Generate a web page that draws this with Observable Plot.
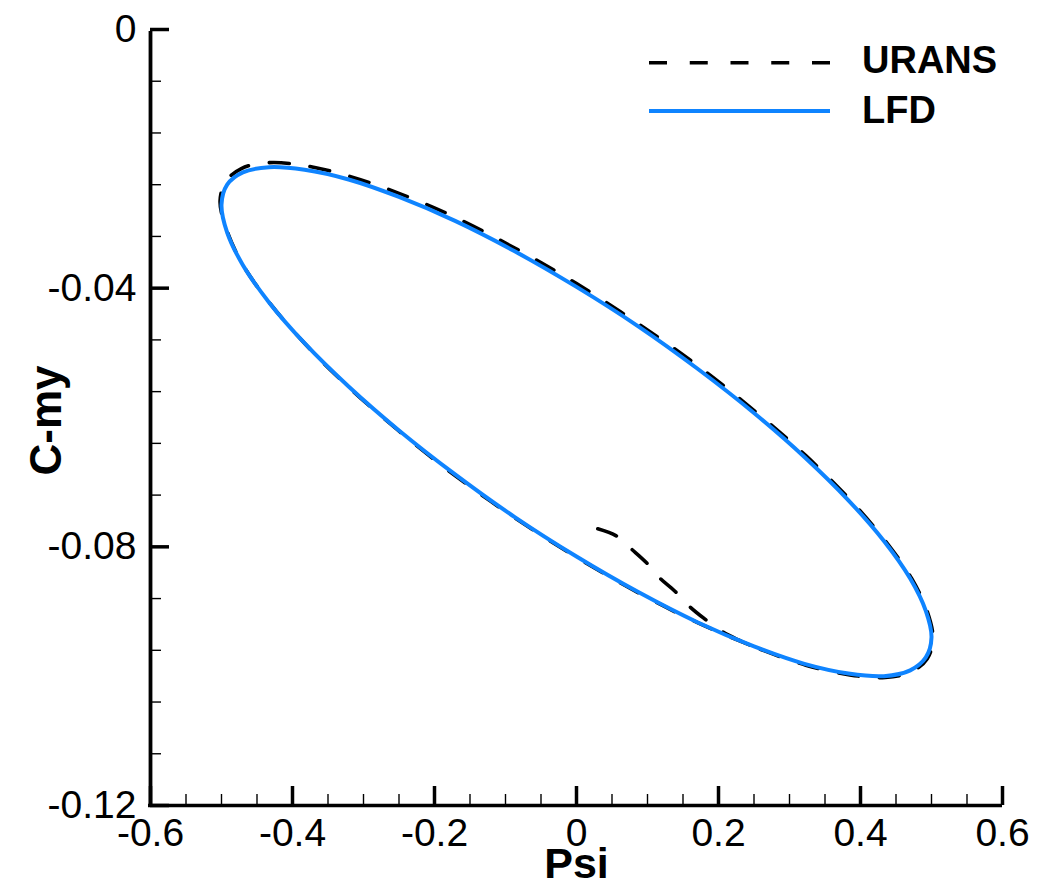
<!DOCTYPE html>
<html><head><meta charset="utf-8">
<script src="https://cdn.jsdelivr.net/npm/d3@7"></script>
<script src="https://cdn.jsdelivr.net/npm/@observablehq/plot@0.6"></script>
<style>
html,body{margin:0;padding:0;background:#fff;}
#wrap{position:relative;width:1039px;height:882px;overflow:hidden;}
#wrap svg{display:block;}
#legend{position:absolute;left:0;top:0;pointer-events:none;}
</style></head><body>
<div id="wrap"></div>
<script>
// ---- data ----
const lfdPsi = [0.500,0.492,0.470,0.433,0.383,0.321,0.250,0.171,0.087,0.000,-0.087,-0.171,-0.250,-0.321,-0.383,-0.433,-0.470,-0.492,-0.500,-0.492,-0.470,-0.433,-0.383,-0.321,-0.250,-0.171,-0.087,0.000,0.087,0.171,0.250,0.321,0.383,0.433,0.470,0.492];
const lfdCmy = [-0.0940,-0.0971,-0.0991,-0.1000,-0.0996,-0.0981,-0.0954,-0.0917,-0.0870,-0.0815,-0.0754,-0.0688,-0.0620,-0.0552,-0.0485,-0.0422,-0.0364,-0.0314,-0.0271,-0.0240,-0.0221,-0.0213,-0.0217,-0.0232,-0.0259,-0.0296,-0.0343,-0.0398,-0.0459,-0.0525,-0.0593,-0.0661,-0.0728,-0.0791,-0.0849,-0.0899];

const uransPsi = [0.030,0.056,0.078,0.099,0.118,0.139,0.159,0.180,0.205,0.228,
  0.251,0.323,0.385,0.435,0.472,0.494,0.502,0.494,0.472,0.435,0.385,0.323,0.251,0.172,0.087,0.000,-0.087,-0.172,-0.251,-0.323,-0.385,-0.435,-0.472,-0.494,-0.502,-0.494,-0.472,-0.435,-0.385,-0.323,-0.251,-0.172,-0.087,0.000,0.087,0.172,0.251];
const uransCmy = [-0.0772,-0.0783,-0.0804,-0.0825,-0.0849,-0.0869,-0.0892,-0.0911,-0.0931,-0.0944,
  -0.0955,-0.0983,-0.0998,-0.1002,-0.0993,-0.0973,-0.0942,-0.0900,-0.0849,-0.0791,-0.0727,-0.0659,-0.0590,-0.0521,-0.0455,-0.0393,-0.0338,-0.0290,-0.0253,-0.0226,-0.0210,-0.0206,-0.0215,-0.0235,-0.0265,-0.0306,-0.0360,-0.0419,-0.0483,-0.0551,-0.0620,-0.0689,-0.0755,-0.0816,-0.0871,-0.0918,-0.0955];

const xTicks = [-0.6,-0.4,-0.2,0,0.2,0.4,0.6];
const xTickLabels = ["-0.6","-0.4","-0.2","0","0.2","0.4","0.6"];
const xMinor = [-0.55,-0.5,-0.45,-0.35,-0.3,-0.25,-0.15,-0.1,-0.05,0.05,0.1,0.15,0.25,0.3,0.35,0.45,0.5,0.55];
const yTicks = [0,-0.04,-0.08,-0.12];
const yTickLabels = ["0","-0.04","-0.08","-0.12"];
const yMinor = [-0.008,-0.016,-0.024,-0.032,-0.048,-0.056,-0.064,-0.072,-0.088,-0.096,-0.104,-0.112];

const seriesNames = ["URANS","LFD"];
const seriesColors = ["#000000","#0f84ff"];

const lfd = lfdPsi.map((p,i)=>({psi:p, cmy:lfdCmy[i]}));
const urans = uransPsi.map((p,i)=>({psi:p, cmy:uransCmy[i]}));

// ---- layout ----
const W=1039, H=882, mL=150, mR=37, mT=29, mB=77;
const plotW = W-mL-mR, plotH = H-mT-mB;
const font = "'Liberation Sans', Arial, Helvetica, sans-serif";

const chart = Plot.plot({
  width: W, height: H,
  marginLeft: mL, marginRight: mR, marginTop: mT, marginBottom: mB,
  x: {domain: [-0.6, 0.6]},
  y: {domain: [-0.12, 0]},
  style: {fontFamily: font, background: "white", overflow: "visible", color: "black"},
  marks: [
    Plot.line(urans, {x:"psi", y:"cmy", stroke: seriesColors[0], strokeWidth: 3.6, strokeDasharray: "20,21", curve: "catmull-rom"}),
    Plot.line(lfd, {x:"psi", y:"cmy", stroke: seriesColors[1], strokeWidth: 4, curve: "catmull-rom-closed"}),
    // minor & major ticks (pointing inward)
    Plot.tickY(yMinor, {y: d=>d, stroke:"black", strokeWidth: 1.4, insetRight: plotW - 11}),
    Plot.tickY(yTicks, {y: d=>d, stroke:"black", strokeWidth: 3.5, insetRight: plotW - 19}),
    Plot.tickX(xMinor, {x: d=>d, stroke:"black", strokeWidth: 1.4, insetTop: plotH - 11}),
    Plot.tickX(xTicks, {x: d=>d, stroke:"black", strokeWidth: 3.5, insetTop: plotH - 19}),
    // axis lines
    Plot.ruleX([-0.6], {stroke:"black", strokeWidth: 3.8, y1: -0.12, y2: 0, insetBottom: -2}),
    Plot.ruleY([-0.12], {stroke:"black", strokeWidth: 3.5, x1: -0.6, x2: 0.6, insetLeft: -2}),
    // tick labels
    Plot.axisY(yTicks, {tickSize: 0, tickPadding: 14, label: null, fontSize: 39,
      tickFormat: d => yTickLabels[yTicks.indexOf(d)]}),
    Plot.axisX(xTicks, {tickSize: 0, tickPadding: 13, label: null, fontSize: 39,
      tickFormat: d => xTickLabels[xTicks.indexOf(d)]}),
    // axis titles
    Plot.text(["Psi"], {frameAnchor: "bottom", textAnchor: "middle", lineAnchor: "bottom", dy: 72, fontSize: 43, fontWeight: "bold", fill: "black"}),
    Plot.text(["C-my"], {frameAnchor: "left", textAnchor: "middle", lineAnchor: "bottom", rotate: -90, dx: -90, dy: 3, fontSize: 44, fontWeight: "bold", fill: "black"})
  ]
});

const wrap = document.getElementById("wrap");
wrap.appendChild(chart);

// ---- legend (overlay inside the plot area, top-right) ----
const leg = d3.select(wrap).append("svg").attr("id","legend").attr("width", W).attr("height", 160);
const legRows = [
  {name: seriesNames[0], color: seriesColors[0], dash: "18,22.75", y: 62.7, width: 3.6, base: 72.8},
  {name: seriesNames[1], color: seriesColors[1], dash: null, y: 111, width: 4, base: 123}
];
legRows.forEach(r => {
  leg.append("line").attr("x1", 649).attr("x2", 830).attr("y1", r.y).attr("y2", r.y)
    .attr("stroke", r.color).attr("stroke-width", r.width)
    .attr("stroke-dasharray", r.dash);
  leg.append("text").attr("x", 862).attr("y", r.base).text(r.name)
    .attr("font-family", font).attr("font-weight", "bold").attr("font-size", 38).attr("fill", "black");
});
</script>
</body></html>
